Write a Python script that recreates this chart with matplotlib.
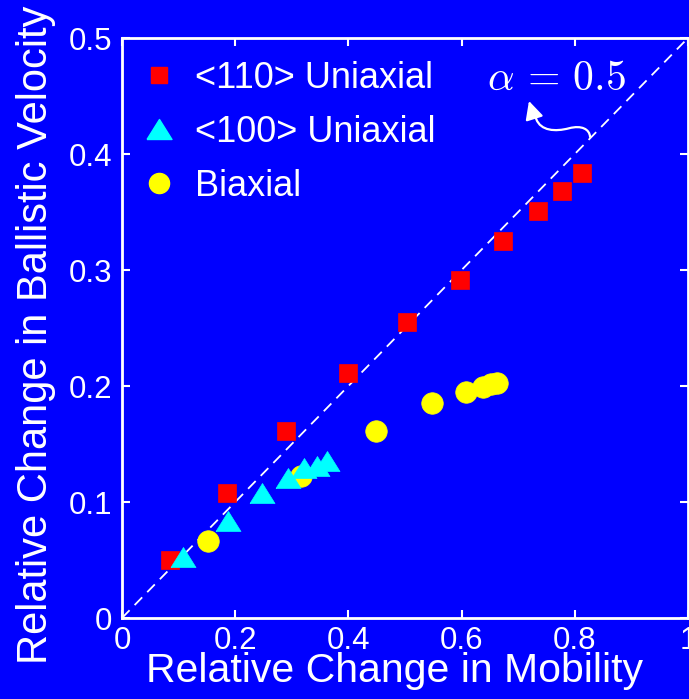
import matplotlib
matplotlib.use("Agg")
import matplotlib.pyplot as plt
from matplotlib.path import Path
from matplotlib.patches import FancyArrowPatch
from matplotlib.lines import Line2D

# Data
sq_x = [0.085, 0.186, 0.290, 0.399, 0.504, 0.597, 0.673, 0.735, 0.777, 0.813]
sq_y = [0.050, 0.108, 0.161, 0.211, 0.255, 0.291, 0.325, 0.351, 0.368, 0.384]
tri_x = [0.108, 0.188, 0.248, 0.293, 0.322, 0.344, 0.363]
tri_y = [0.053, 0.084, 0.108, 0.121, 0.129, 0.131, 0.135]
cir_x = [0.152, 0.316, 0.449, 0.548, 0.607, 0.637, 0.652, 0.663]
cir_y = [0.066, 0.122, 0.161, 0.185, 0.195, 0.199, 0.202, 0.203]
alpha_val = 0.5
labels = ["<110> Uniaxial", "<100> Uniaxial", "Biaxial"]
xticks = [0, 0.2, 0.4, 0.6, 0.8, 1]
xticklabels = ["0", "0.2", "0.4", "0.6", "0.8", "1"]
yticks = [0, 0.1, 0.2, 0.3, 0.4, 0.5]
yticklabels = ["0", "0.1", "0.2", "0.3", "0.4", "0.5"]

plt.rcParams['font.family'] = ['Liberation Sans', 'DejaVu Sans']
plt.rcParams['mathtext.fontset'] = 'cm'

BLUE = (0, 0, 1)
TRI = [(-1, -0.8), (1, -0.8), (0, 0.8), (-1, -0.8)]

fig = plt.figure(figsize=(6.89, 6.99), dpi=100, facecolor=BLUE)
ax = fig.add_axes([122/689, 81/699, 566/689, 580/699], facecolor=BLUE)

# reference line alpha = 0.5
ax.plot([0, 1], [0, alpha_val * 1], color='white', lw=1.3, ls=(0, (6, 4)), zorder=1)

ax.plot(sq_x, sq_y, ls='none', marker='s', ms=13, mfc='red', mec='red', mew=0.5, zorder=3)
ax.plot(tri_x, tri_y, ls='none', marker=TRI, ms=18, mfc='cyan', mec='cyan', mew=0.5, zorder=4)
ax.plot(cir_x, cir_y, ls='none', marker='o', ms=15.5, mfc='yellow', mec='yellow', mew=0.5, zorder=2)

ax.set_xlim(0, 1)
ax.set_ylim(0, 0.5)
ax.set_xticks(xticks)
ax.set_xticklabels(xticklabels)
ax.set_yticks(yticks)
ax.set_yticklabels(yticklabels)
ax.tick_params(direction='in', length=6, width=1.5, colors='white', labelsize=22.5,
               top=True, right=True)
ax.tick_params(axis='x', pad=6)
ax.tick_params(axis='y', pad=7)
for s in ax.spines.values():
    s.set_color('white')
    s.set_linewidth(2)

ax.set_xlabel("Relative Change in Mobility", color='white', fontsize=29.5, labelpad=-3)
ax.xaxis.label.set_x(0.482)
ax.set_ylabel("Relative Change in Ballistic Velocity", color='white', fontsize=30, labelpad=9)
ax.yaxis.label.set_y(0.488)

handles = [
    Line2D([], [], ls='none', marker='s', ms=12, mfc='red', mec='red'),
    Line2D([], [], ls='none', marker=TRI, ms=18, mfc='cyan', mec='cyan'),
    Line2D([], [], ls='none', marker='o', ms=14.5, mfc='yellow', mec='yellow'),
]
leg = ax.legend(handles, labels, loc='upper left', bbox_to_anchor=(-0.011, 1.004),
                frameon=False, fontsize=26, labelcolor='white',
                handlelength=1.0, handletextpad=0.5, labelspacing=0.52,
                borderaxespad=0.3)

ax.text(0.7677, 0.465, r'$\alpha\,=\,0.5$', color='white', fontsize=30,
        ha='center', va='center')

verts = [(0.827, 0.4147),
         (0.826, 0.4215), (0.812, 0.425), (0.790, 0.4222),
         (0.765, 0.419), (0.740, 0.420), (0.732, 0.430),
         (0.727, 0.436), (0.722, 0.441), (0.719, 0.4457)]
codes = [Path.MOVETO] + [Path.CURVE4] * 9
arr = FancyArrowPatch(path=Path(verts, codes),
                      arrowstyle='-|>,head_length=11,head_width=5.5',
                      color='white', lw=1.6, mutation_scale=1)
ax.add_patch(arr)

fig.savefig("out.png", dpi=100, facecolor=BLUE)
